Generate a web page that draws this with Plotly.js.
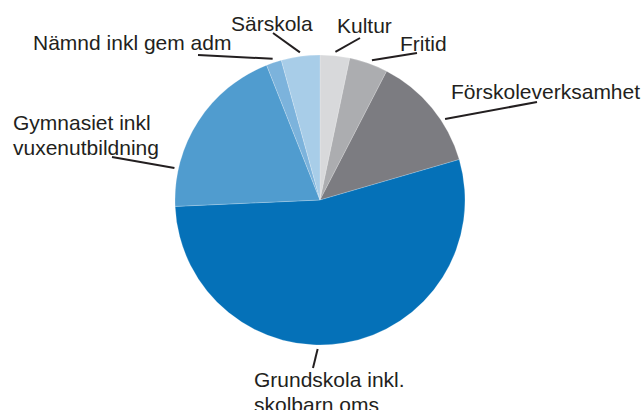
<!DOCTYPE html>
<html>
<head>
<meta charset="utf-8">
<script src="https://cdn.plot.ly/plotly-3.0.1.min.js"></script>
<style>html,body{margin:0;padding:0;background:#fff;}#chart{width:643px;height:410px;}</style>
</head>
<body>
<div id="chart"></div>
<script>
// ---- Data ----
var categories = ["Kultur", "Fritid", "Förskoleverksamhet", "Grundskola inkl.<br>skolbarn oms",
                  "Gymnasiet inkl<br>vuxenutbildning", "Nämnd inkl gem adm", "Särskola"];
var shares = [3.3, 4.3, 12.9, 53.8, 19.7, 1.7, 4.3];

// ---- Styles / layout ----
var colors = ["#d8d9db", "#acadb0", "#7c7c81", "#0571b8", "#509ccf", "#7cb3dc", "#a8cde8"];
var W = 643, H = 410;
var CX = 320, CY = 200, R = 145;
// label text position (left x, middle of first line y), leader attach fraction within slice, leader outer end
var labelX   = [336, 399, 450, 253, 12, 32, 230];
var labelY   = [25.5, 43.5, 92, 379, 122.5, 43, 23];
var attachF  = [0.5, 0.55, 0.64, 0.553, 0.21, 0.5, 0.5];
var leaderEnd = [[360, 38], [417, 53], [537, 102], [313, 368], [112, 157], [198, 55], [273, 33]];
var lineGap = 25;
var textColor = "#231f20";

function px(x) { return x / W; }
function py(y) { return 1 - y / H; }

var total = shares.reduce(function (a, b) { return a + b; }, 0);
var shapes = [], annotations = [];
var acc = 0;
for (var i = 0; i < shares.length; i++) {
  var a0 = acc / total * 360;
  var sweep = shares[i] / total * 360;
  acc += shares[i];
  var ang = (a0 + attachF[i] * sweep) * Math.PI / 180;
  var rr = R + 4;
  var ix = CX + rr * Math.sin(ang), iy = CY - rr * Math.cos(ang);
  shapes.push({type: "line", xref: "paper", yref: "paper",
    x0: px(ix), y0: py(iy), x1: px(leaderEnd[i][0]), y1: py(leaderEnd[i][1]),
    line: {color: textColor, width: 2}});
  var lines = categories[i].split("<br>");
  for (var k = 0; k < lines.length; k++) {
    annotations.push({text: lines[k], showarrow: false, xref: "paper", yref: "paper",
      x: px(labelX[i]), y: py(labelY[i] + k * lineGap), xanchor: "left", yanchor: "middle",
      borderpad: 0, font: {family: "Liberation Sans, Arial, sans-serif", size: 21, color: textColor}});
  }
}

var trace = {
  type: "pie",
  labels: categories,
  values: shares,
  sort: false,
  direction: "clockwise",
  rotation: 0,
  textinfo: "none",
  hoverinfo: "label+percent",
  marker: {colors: colors, line: {color: "rgba(255,255,255,0.4)", width: 0.5}},
  domain: {x: [px(CX - R), px(CX + R)], y: [py(CY + R), py(CY - R)]},
  showlegend: false
};

Plotly.newPlot("chart", [trace], {
  width: W, height: H,
  margin: {l: 0, r: 0, t: 0, b: 0},
  paper_bgcolor: "#ffffff",
  showlegend: false,
  shapes: shapes,
  annotations: annotations
}, {displayModeBar: false, staticPlot: true});
</script>
</body>
</html>
